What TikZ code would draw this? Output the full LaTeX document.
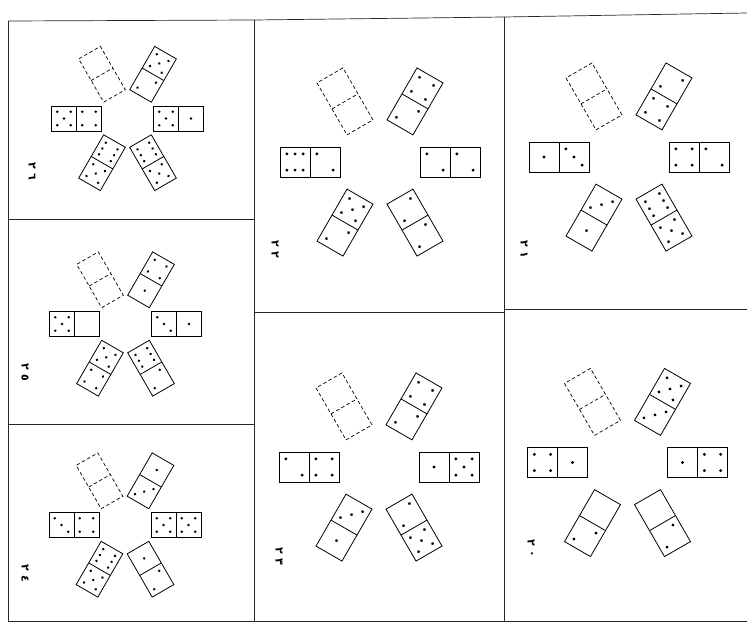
\documentclass[tikz,border=0pt]{standalone}
\usepackage{fontspec}
\newfontfamily\arabicfont[Script=Arabic]{DejaVu Sans}
\tikzset{
  dline/.style={draw=black,line width=0.8pt},
  dashline/.style={draw=black,line width=0.7pt,dash pattern=on 3.5pt off 2.5pt},
  frame/.style={draw=black!85,line width=0.7pt},
  lbl/.style={font=\arabicfont\bfseries\fontsize{11}{11}\selectfont,inner sep=0pt,rotate=-90},
  pics/domino/.style args={#1/#2/#3}{code={
    \pgfmathsetmacro\hs{#1/2}
    \pgfmathsetmacro\dd{0.27*#1}
    \draw[dline] (-#1,-\hs) rectangle (#1,\hs);
    \draw[dline] (0,-\hs) -- (0,\hs);
    \halfpips{#2}{-\hs}{\dd}
    \halfpips{#3}{\hs}{\dd}
  }},
  pics/blankdomino/.style={code={
    \pgfmathsetmacro\hs{#1/2}
    \draw[dashline] (-#1,-\hs) rectangle (#1,\hs);
    \draw[dashline] (0,-\hs) -- (0,\hs);
  }}
}
\def\piprad{1.6}
\newcommand\pipat[2]{\fill (#1,#2) circle[radius=\piprad];}
\newcommand\halfpips[3]{%
  \ifcase#1\relax
  \or \pipat{#2}{0}
  \or \pipat{#2-#3}{-#3}\pipat{#2+#3}{#3}
  \or \pipat{#2-#3}{-#3}\pipat{#2}{0}\pipat{#2+#3}{#3}
  \or \pipat{#2-#3}{-#3}\pipat{#2+#3}{-#3}\pipat{#2-#3}{#3}\pipat{#2+#3}{#3}
  \or \pipat{#2-#3}{-#3}\pipat{#2+#3}{-#3}\pipat{#2-#3}{#3}\pipat{#2+#3}{#3}\pipat{#2}{0}
  \or \pipat{#2-#3}{-#3}\pipat{#2}{-#3}\pipat{#2+#3}{-#3}\pipat{#2-#3}{#3}\pipat{#2}{#3}\pipat{#2+#3}{#3}
  \fi}
\begin{document}
\begin{tikzpicture}[x=1pt,y=-1pt]
\useasboundingbox[fill=white] (0,0) rectangle (747,626);
% frame
\draw[frame] (8,21) -- (254,20) -- (504,17) -- (747,13);
\draw[frame] (8,21) -- (8,621);
\draw[frame] (254,20) -- (254,621);
\draw[frame] (504,17) -- (504,621);
\draw[frame] (8,621) -- (747,621);
\draw[frame] (8,219) -- (254,219);
\draw[frame] (8,424) -- (254,424);
\draw[frame] (254,312) -- (504,312);
\draw[frame] (504,309) -- (747,309);
% panel 21
\begin{scope}[shift={(629,157)}]
  \pic at (-70,0) {domino={30/1/3}};
  \pic at (70,0) {domino={30/4/2}};
  \pic[rotate=60] at (35,-60.6) {domino={30/4/2}};
  \pic[rotate=120] at (-35,-60.6) {blankdomino=30};
  \pic[rotate=60] at (-35,60.6) {domino={30/1/3}};
  \pic[rotate=120] at (35,60.6) {domino={30/5/6}};
\end{scope}
\node[lbl] (l21a) at (524,244) {٢};
\node[lbl] (l21b) at (524,255) {١};
% panel 20
\begin{scope}[shift={(627.5,462.5)}]
  \pic at (-70,0) {domino={30/4/1}};
  \pic at (70,0) {domino={30/1/4}};
  \pic[rotate=60] at (35,-60.6) {domino={30/3/5}};
  \pic[rotate=120] at (-35,-60.6) {blankdomino=30};
  \pic[rotate=60] at (-35,60.6) {domino={30/2/0}};
  \pic[rotate=120] at (35,60.6) {domino={30/2/0}};
\end{scope}
\node[lbl] (l20a) at (531,543) {٢};
\node[lbl] (l20b) at (531,554) {٠};
% panel 22
\begin{scope}[shift={(380,162)}]
  \pic at (-70,0) {domino={30/6/2}};
  \pic at (70,0) {domino={30/2/2}};
  \pic[rotate=60] at (35,-60.6) {domino={30/2/4}};
  \pic[rotate=120] at (-35,-60.6) {blankdomino=30};
  \pic[rotate=60] at (-35,60.6) {domino={30/2/5}};
  \pic[rotate=120] at (35,60.6) {domino={30/2/2}};
\end{scope}
\node[lbl] (l22a) at (275,244) {٢};
\node[lbl] (l22b) at (275,255) {٢};
% panel 23
\begin{scope}[shift={(379,467)}]
  \pic at (-70,0) {domino={30/2/4}};
  \pic at (70,0) {domino={30/1/5}};
  \pic[rotate=60] at (35,-60.6) {domino={30/2/4}};
  \pic[rotate=120] at (-35,-60.6) {blankdomino=30};
  \pic[rotate=60] at (-35,60.6) {domino={30/1/3}};
  \pic[rotate=120] at (35,60.6) {domino={30/5/2}};
\end{scope}
\node[lbl] (l23a) at (279,551) {٢};
\node[lbl] (l23b) at (279,562) {٣};
% panel 26
\begin{scope}[shift={(127.5,118.5)}]
  \def\piprad{1.4}
  \pic at (-51,0) {domino={25/5/4}};
  \pic at (51,0) {domino={25/5/1}};
  \pic[rotate=60] at (25.5,-44.2) {domino={25/2/5}};
  \pic[rotate=120] at (-25.5,-44.2) {blankdomino=25};
  \pic[rotate=60] at (-25.5,44.2) {domino={25/5/6}};
  \pic[rotate=120] at (25.5,44.2) {domino={25/5/6}};
\end{scope}
\node[lbl] (l26a) at (32,166) {٢};
\node[lbl] (l26b) at (32,177) {٦};
% panel 25
\begin{scope}[shift={(125.5,324)}]
  \def\piprad{1.4}
  \pic at (-51,0) {domino={25/5/0}};
  \pic at (51,0) {domino={25/3/1}};
  \pic[rotate=60] at (25.5,-44.2) {domino={25/1/4}};
  \pic[rotate=120] at (-25.5,-44.2) {blankdomino=25};
  \pic[rotate=60] at (-25.5,44.2) {domino={25/4/5}};
  \pic[rotate=120] at (25.5,44.2) {domino={25/2/6}};
\end{scope}
\node[lbl] (l25a) at (25,367) {٢};
\node[lbl] (l25b) at (25,378) {٥};
% panel 24
\begin{scope}[shift={(125,525)}]
  \def\piprad{1.4}
  \pic at (-51,0) {domino={25/3/4}};
  \pic at (51,0) {domino={25/5/5}};
  \pic[rotate=60] at (25.5,-44.2) {domino={25/3/1}};
  \pic[rotate=120] at (-25.5,-44.2) {blankdomino=25};
  \pic[rotate=60] at (-25.5,44.2) {domino={25/5/6}};
  \pic[rotate=120] at (25.5,44.2) {domino={25/2/1}};
\end{scope}
\node[lbl] (l24a) at (25,568) {٢};
\node[lbl] (l24b) at (25,579) {٤};
\end{tikzpicture}
\end{document}
